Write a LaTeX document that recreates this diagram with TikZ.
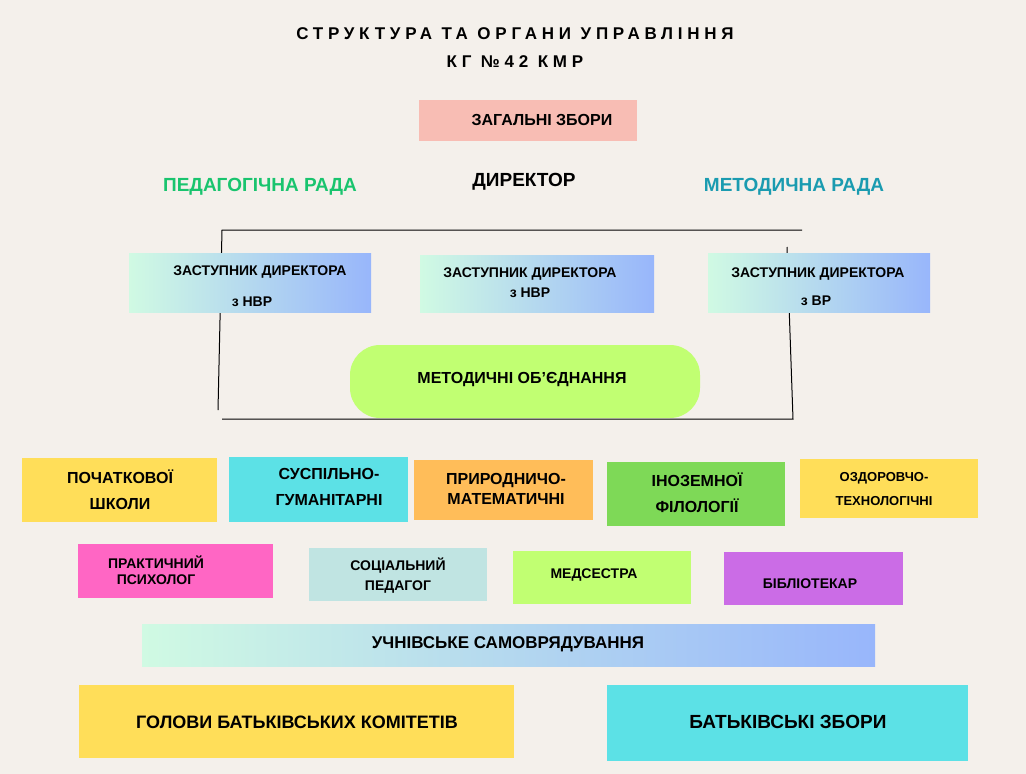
\documentclass[tikz,border=0pt]{standalone}
\usepackage{fontspec}
\setmainfont{Liberation Sans}
\newfontfamily\titlefont[LetterSpace=28]{Liberation Sans}
\begin{document}
\begin{tikzpicture}[x=1pt,y=-1pt,
  bx/.style={inner sep=0pt,font=\bfseries\fontsize{16}{20}\selectfont,align=center},
  sm/.style={inner sep=0pt,font=\bfseries\fontsize{14}{16}\selectfont,align=center},
  ln/.style={draw=black,line width=1pt}]
\definecolor{bg}{HTML}{F4F0EB}
\definecolor{gl}{HTML}{D0FAE3}\definecolor{gr}{HTML}{98B6FB}
\fill[bg] (0,0) rectangle (1026,774);
\useasboundingbox (0,0) rectangle (1026,774);
\node[inner sep=0pt,font=\titlefont\bfseries\fontsize{17}{28}\selectfont,align=center] (title) at (515,48) {СТРУКТУРА ТА ОРГАНИ УПРАВЛІННЯ\\КГ №42 КМР};
\fill[fill={rgb,255:red,248;green,189;blue,180}] (419,100) rectangle (637,141);
\node[bx] (zz) at (542,120) {ЗАГАЛЬНІ ЗБОРИ};
\node[inner sep=0pt,font=\bfseries\fontsize{19}{22}\selectfont,text={rgb,255:red,25;green,196;blue,110}] (pr) at (260,187) {ПЕДАГОГІЧНА РАДА};
\node[inner sep=0pt,font=\bfseries\fontsize{19}{22}\selectfont] (dir) at (524,182) {ДИРЕКТОР};
\node[inner sep=0pt,font=\bfseries\fontsize{19}{22}\selectfont,text={rgb,255:red,26;green,155;blue,176}] (mr) at (794,187) {МЕТОДИЧНА РАДА};
\coordinate (a1) at (222,230);\coordinate (a2) at (802,230);\coordinate (a3) at (218,410);
\coordinate (a4) at (787,247);\coordinate (a5) at (793,419);\coordinate (a6) at (222,419);
\draw[ln] (a2) -- (a1) -- (a3);
\draw[ln] (a4) -- (a5) -- (a6);
\shade[left color=gl,right color=gr] (129,253) rectangle (371,312);
\shade[left color=gl,right color=gr] (420,255) rectangle (654,312);
\shade[left color=gl,right color=gr] (708,253) rectangle (930,312);
\node[sm] (z1) at (260,272) {ЗАСТУПНИК ДИРЕКТОРА};
\node[sm] (z1b) at (252,302) {з НВР};
\node[sm,font=\bfseries\fontsize{14}{20}\selectfont] (z2) at (530,283) {ЗАСТУПНИК ДИРЕКТОРА\\з НВР};
\node[sm] (z3) at (818,274) {ЗАСТУПНИК ДИРЕКТОРА};
\node[sm] (z3b) at (816,301) {з ВР};
\fill[rounded corners=30pt,fill={rgb,255:red,193;green,255;blue,114}] (350,345) rectangle (700,418);
\node[bx] (mo) at (522,380) {МЕТОДИЧНІ ОБ’ЄДНАННЯ};
\fill[fill={rgb,255:red,255;green,222;blue,89}] (22,458) rectangle (217,522);
\node[bx,font=\bfseries\fontsize{16}{26}\selectfont] (b1) at (120,490) {ПОЧАТКОВОЇ\\ШКОЛИ};
\fill[fill={rgb,255:red,92;green,225;blue,230}] (229,457) rectangle (408,522);
\node[bx,font=\bfseries\fontsize{16}{26}\selectfont] (b2) at (329,487) {СУСПІЛЬНО-\\ГУМАНІТАРНІ};
\fill[fill={rgb,255:red,255;green,189;blue,89}] (414,460) rectangle (593,520);
\node[bx] (b3) at (506,489) {ПРИРОДНИЧО-\\МАТЕМАТИЧНІ};
\fill[fill={rgb,255:red,126;green,217;blue,87}] (607,462) rectangle (785,526);
\node[bx,font=\bfseries\fontsize{16}{26}\selectfont] (b4) at (697,493) {ІНОЗЕМНОЇ\\ФІЛОЛОГІЇ};
\fill[fill={rgb,255:red,255;green,222;blue,89}] (800,459) rectangle (978,518);
\node[sm,font=\bfseries\fontsize{13}{24}\selectfont] (b5) at (884,489) {ОЗДОРОВЧО-\\ТЕХНОЛОГІЧНІ};
\fill[fill={rgb,255:red,255;green,102;blue,196}] (78,544) rectangle (273,598);
\node[sm] (c1) at (156,570) {ПРАКТИЧНИЙ\\ПСИХОЛОГ};
\fill[fill={rgb,255:red,192;green,228;blue,226}] (309,548) rectangle (487,601);
\node[sm,font=\bfseries\fontsize{14}{20}\selectfont] (c2) at (398,576) {СОЦІАЛЬНИЙ\\ПЕДАГОГ};
\fill[fill={rgb,255:red,193;green,255;blue,114}] (513,551) rectangle (691,604);
\node[sm] (c3) at (594,575) {МЕДСЕСТРА};
\fill[fill={rgb,255:red,203;green,108;blue,230}] (724,552) rectangle (903,605);
\node[sm] (c4) at (810,584) {БІБЛІОТЕКАР};
\shade[left color=gl,right color=gr] (142,624) rectangle (875,666);
\node[bx,font=\bfseries\fontsize{17}{20}\selectfont] (us) at (508,644) {УЧНІВСЬКЕ САМОВРЯДУВАННЯ};
\fill[fill={rgb,255:red,255;green,222;blue,89}] (79,685) rectangle (514,758);
\node[bx,font=\bfseries\fontsize{18}{20}\selectfont] (gb) at (297,722) {ГОЛОВИ БАТЬКІВСЬКИХ КОМІТЕТІВ};
\fill[fill={rgb,255:red,92;green,225;blue,230}] (607,685) rectangle (968,761);
\node[bx,font=\bfseries\fontsize{19}{20}\selectfont] (bz) at (788,722) {БАТЬКІВСЬКІ ЗБОРИ};
\end{tikzpicture}
\end{document}
